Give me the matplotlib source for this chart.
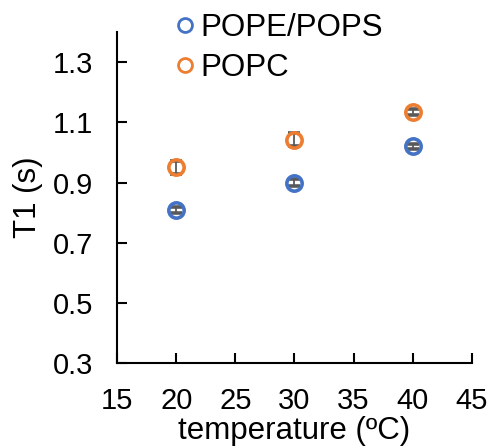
import matplotlib

matplotlib.use("Agg")

import matplotlib.pyplot as plt

plt.rcParams["font.family"] = ["Liberation Sans", "DejaVu Sans"]

temperature = [20, 30, 40]
pope_pops = [0.81, 0.90, 1.02]
pope_pops_err = [0.010, 0.011, 0.009]
popc = [0.95, 1.042, 1.134]
popc_err = [0.020, 0.022, 0.009]

fig = plt.figure(figsize=(4.92, 4.46), dpi=100)
ax = fig.add_axes([0.238, 0.186, 0.721, 0.742])

ax.errorbar(temperature, pope_pops, yerr=pope_pops_err, fmt="o", color="#4472C4",
            mfc="none", mew=2.6, ms=11, ecolor="#595959", elinewidth=1.3,
            capsize=4.5, capthick=1.3, label="POPE/POPS")
ax.errorbar(temperature, popc, yerr=popc_err, fmt="o", color="#ED7D31",
            mfc="none", mew=2.6, ms=11, ecolor="#595959", elinewidth=1.3,
            capsize=4.5, capthick=1.3, label="POPC")

ax.set_xlim(15, 45)
ax.set_ylim(0.3, 1.4)
ax.set_xticks([15, 20, 25, 30, 35, 40, 45])
ax.set_yticks([0.3, 0.5, 0.7, 0.9, 1.1, 1.3])
ax.set_yticklabels(["0.3", "0.5", "0.7", "0.9", "1.1", "1.3"])
ax.tick_params(direction="in", length=7, width=1.5, labelsize=21, pad=17)
ax.spines["top"].set_visible(False)
ax.spines["right"].set_visible(False)
ax.spines["left"].set_linewidth(1.5)
ax.spines["bottom"].set_linewidth(1.5)

ax.set_xlabel("temperature (ºC)", fontsize=22.5)
ax.set_ylabel("T1 (s)", fontsize=22.5)
ax.xaxis.set_label_coords(0.5, -0.205)
ax.xaxis.label.set_va("center")
ax.yaxis.set_label_coords(-0.25, 0.5)
ax.yaxis.label.set_va("center")

handles = [
    plt.Line2D([], [], marker="o", ls="none", mfc="none", mec="#4472C4", mew=2.0, ms=10),
    plt.Line2D([], [], marker="o", ls="none", mfc="none", mec="#ED7D31", mew=2.0, ms=10),
]
ax.legend(handles, ["POPE/POPS", "POPC"], loc="upper left",
          bbox_to_anchor=(175.6 / 492, 1 - 13 / 446), bbox_transform=fig.transFigure,
          frameon=False, fontsize=22.5, handlelength=0.6, handletextpad=0.2,
          labelspacing=0.32, borderpad=0, borderaxespad=0)

fig.savefig("out.png")
